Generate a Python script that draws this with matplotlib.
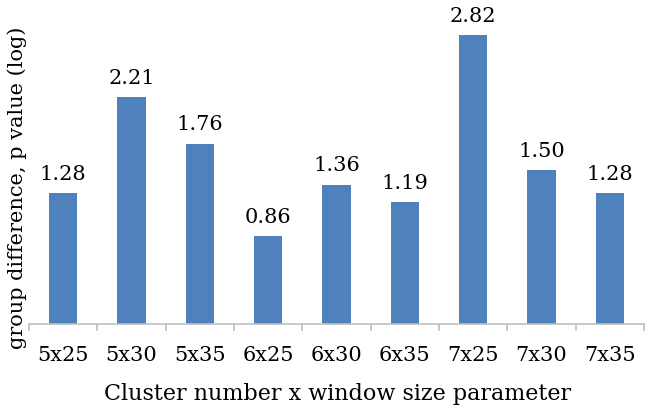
import matplotlib
matplotlib.use("Agg")
import matplotlib.pyplot as plt
from matplotlib.ticker import FixedLocator

categories = ["5x25", "5x30", "5x35", "6x25", "6x30", "6x35", "7x25", "7x30", "7x35"]
values = [1.28, 2.21, 1.76, 0.86, 1.36, 1.19, 2.82, 1.50, 1.28]
value_labels = ["1.28", "2.21", "1.76", "0.86", "1.36", "1.19", "2.82", "1.50", "1.28"]

plt.rcParams['font.family'] = ['DejaVu Serif']

W, H = 646, 408
fig = plt.figure(figsize=(W / 100, H / 100), dpi=100)
ax = fig.add_axes([29 / W, (H - 324) / H, (644 - 29) / W, (324 - 16.5) / H])

x = list(range(len(categories)))
ax.bar(x, values, width=0.41, color="#4F81BD", zorder=2)
for xi, v, lab in zip(x, values, value_labels):
    ax.annotate(lab, (xi, v), xytext=(0, 9.5), textcoords="offset points",
                ha="center", va="baseline", fontsize=15, color="black")

ax.set_xlim(-0.5, len(categories) - 0.5)
ax.set_ylim(0, 3)
for s in ["left", "right", "top"]:
    ax.spines[s].set_visible(False)
ax.spines["bottom"].set_color("#BFBFBF")
ax.spines["bottom"].set_linewidth(1.2)
ax.set_yticks([])
ax.set_xticks(x)
ax.set_xticklabels(categories, fontsize=15)
ax.tick_params(axis="x", which="major", length=0, pad=16)
ax.xaxis.set_minor_locator(FixedLocator([i - 0.5 for i in range(len(categories) + 1)]))
ax.tick_params(axis="x", which="minor", length=5, color="#BFBFBF", width=1.2)

fig.text(338 / W, 8 / H, "Cluster number x window size parameter",
         ha="center", va="baseline", fontsize=16)
fig.text(17 / W, 1 - 188 / H, "group difference, p value (log)", rotation=90,
         ha="center", va="center", fontsize=15)

fig.savefig("out.png", dpi=100)
